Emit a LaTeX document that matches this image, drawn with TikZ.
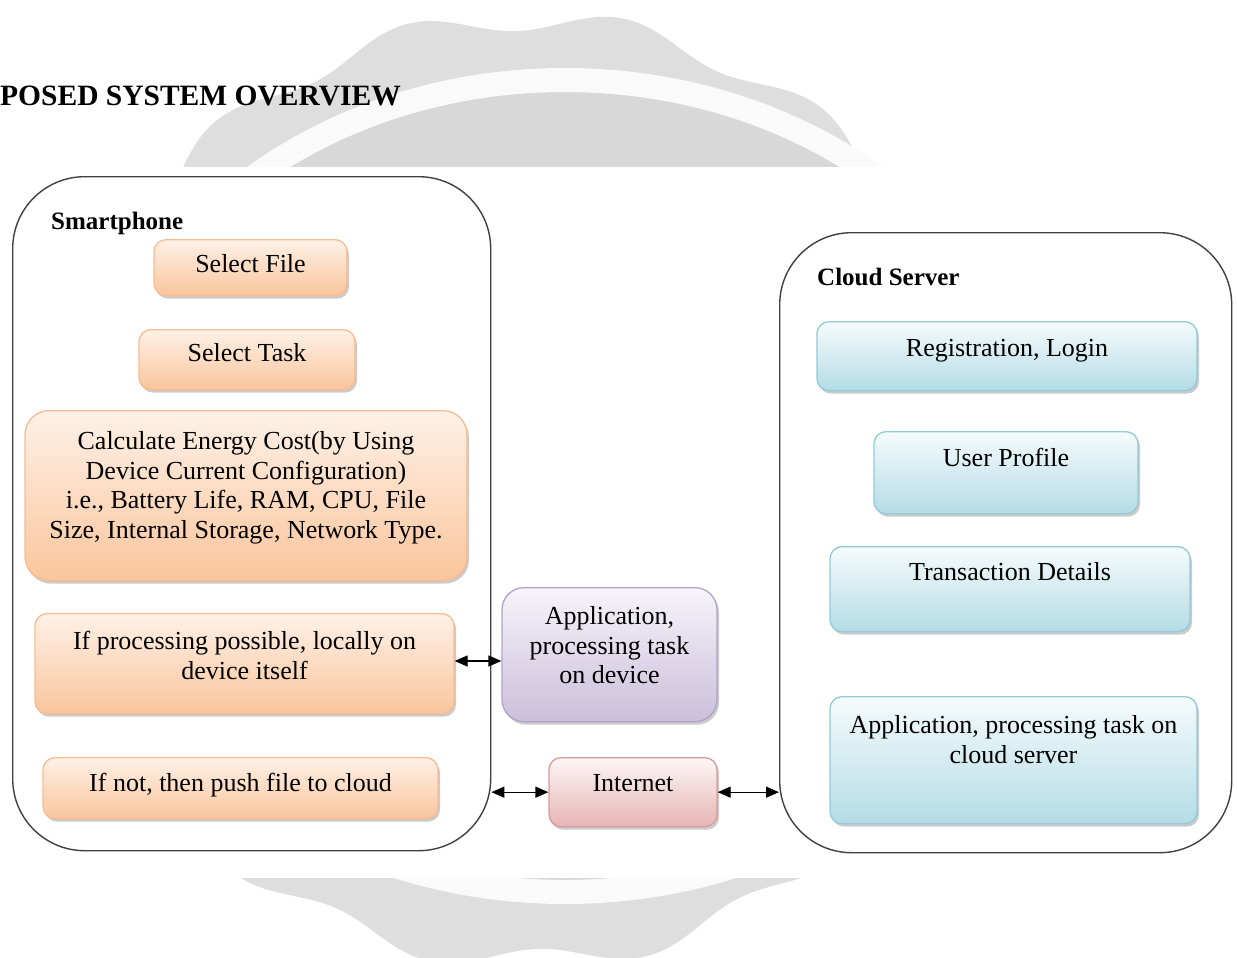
\documentclass[tikz,border=0pt]{standalone}
\usepackage{fontspec}
\setmainfont{Liberation Serif}
\usetikzlibrary{shadows,arrows.meta}
\definecolor{orTop}{HTML}{FEF1E7}
\definecolor{orBot}{HTML}{FAC59C}
\definecolor{orLine}{HTML}{F8BC8E}
\definecolor{blTop}{HTML}{F6FBFC}
\definecolor{blBot}{HTML}{B4DCE6}
\definecolor{blLine}{HTML}{92CAD8}
\definecolor{puTop}{HTML}{F7F4FA}
\definecolor{puBot}{HTML}{CBBFDA}
\definecolor{puLine}{HTML}{B3A2C7}
\definecolor{reTop}{HTML}{FDF6F6}
\definecolor{reBot}{HTML}{E6B5B4}
\definecolor{reLine}{HTML}{D99A98}
\definecolor{wmOut}{HTML}{DEDEDE}
\definecolor{wmIn}{HTML}{D8D8D8}
\definecolor{wmRing}{HTML}{FAFAFA}
\newcommand{\bodyfont}{\fontsize{26}{29.5}\selectfont}
\renewcommand{\arraystretch}{1}
\tikzset{
  box/.style={draw, line width=1.3pt, inner xsep=0pt, inner ysep=0pt, anchor=north,
    font=\bodyfont, drop shadow={shadow xshift=2pt, shadow yshift=-3pt, fill=black!45, opacity=.45}},
  obox/.style={box, draw=orLine, top color=orTop, bottom color=orBot, rounded corners=12pt},
  bbox/.style={box, draw=blLine, top color=blTop, bottom color=blBot, rounded corners=12pt},
  pbox/.style={box, draw=puLine, top color=puTop, bottom color=puBot, rounded corners=22pt},
  rbox/.style={box, draw=reLine, top color=reTop, bottom color=reBot, rounded corners=12pt},
  container/.style={draw=black!75, line width=1.4pt, fill=white, anchor=north west, inner sep=0pt},
  head/.style={font=\fontsize{25}{28}\selectfont\bfseries, anchor=base west, inner sep=0pt},
  link/.style={{Triangle[length=13pt,width=11pt]}-{Triangle[length=13pt,width=11pt]}, line width=1.3pt, black}
}
\begin{document}
\begin{tikzpicture}[x=1pt,y=-1pt]
\useasboundingbox (0,0) rectangle (1237,958);
% watermark seal
\begin{scope}
\clip (0,0) rectangle (1237,958);
\fill[wmOut] plot[domain=0:360, samples=240, smooth] ({527+(474+11*cos(14*\x+20))*cos(\x)}, {490+(470+11*cos(14*\x+20))*sin(\x)}) -- cycle;
\fill[wmIn] (565,486) ellipse [x radius=468pt, y radius=394pt];
\draw[wmRing, line width=24pt] (565,486) ellipse [x radius=480pt, y radius=406pt];
\fill[white] (0,167) rectangle (1237,878);
\end{scope}
% title
\node[font=\fontsize{29.5}{32}\selectfont\bfseries, anchor=base west, inner sep=0pt] (title) at (0,106) {POSED SYSTEM OVERVIEW};
% containers
\node[container, rounded corners=72pt, minimum width=478pt, minimum height=674pt] (phone) at (12,176) {};
\node[container, rounded corners=72pt, minimum width=452pt, minimum height=620pt] (cloud) at (779,232) {};
\node[head] (phonelbl) at (51,229) {Smartphone};
\node[head] (cloudlbl) at (817,285) {Cloud Server};
% smartphone boxes
\node[obox, minimum width=193pt, text height=33pt, text depth=23pt] (file) at (250.5,239) {Select File};
\node[obox, minimum width=216pt, text height=32pt, text depth=28pt] (task) at (247,329) {Select Task};
\node[obox, rounded corners=24pt, minimum width=442pt, text height=39pt, text depth=131pt] (energy) at (246,410)
  {\begin{tabular}[t]{@{}c@{}}Calculate Energy Cost(by Using\\Device Current Configuration)\\i.e., Battery Life, RAM, CPU, File\\Size, Internal Storage, Network Type.\end{tabular}};
\node[obox, minimum width=419pt, text height=36pt, text depth=64pt] (local) at (244.5,613)
  {\begin{tabular}[t]{@{}c@{}}If processing possible, locally on\\device itself\end{tabular}};
\node[obox, minimum width=395pt, text height=34pt, text depth=27pt] (push) at (240.5,757) {If not, then push file to cloud};
% middle boxes
\node[pbox, minimum width=215pt, text height=37pt, text depth=97pt] (appdev) at (609.5,587)
  {\begin{tabular}[t]{@{}c@{}}Application,\\processing task\\on device\end{tabular}};
\node[rbox, minimum width=168pt, text height=34pt, text depth=35pt] (net) at (633,757) {Internet};
% cloud boxes
\node[bbox, minimum width=380pt, text height=35pt, text depth=34pt] (reg) at (1007,321) {Registration, Login};
\node[bbox, minimum width=264pt, text height=35pt, text depth=47pt] (prof) at (1006,431) {User Profile};
\node[bbox, minimum width=360pt, text height=34pt, text depth=51pt] (trans) at (1010,546) {Transaction Details};
\node[bbox, minimum width=367pt, text height=37pt, text depth=90pt] (appcl) at (1013.5,696)
  {\begin{tabular}[t]{@{}c@{}}Application, processing task on\\cloud server\end{tabular}};
% connectors
\draw[link] (local.east |- 0,661) -- (appdev.west |- 0,661);
\draw[link] (phone.east |- net.west) -- (net.west);
\draw[link] (net.east) -- (cloud.west |- net.east);
\end{tikzpicture}
\end{document}
